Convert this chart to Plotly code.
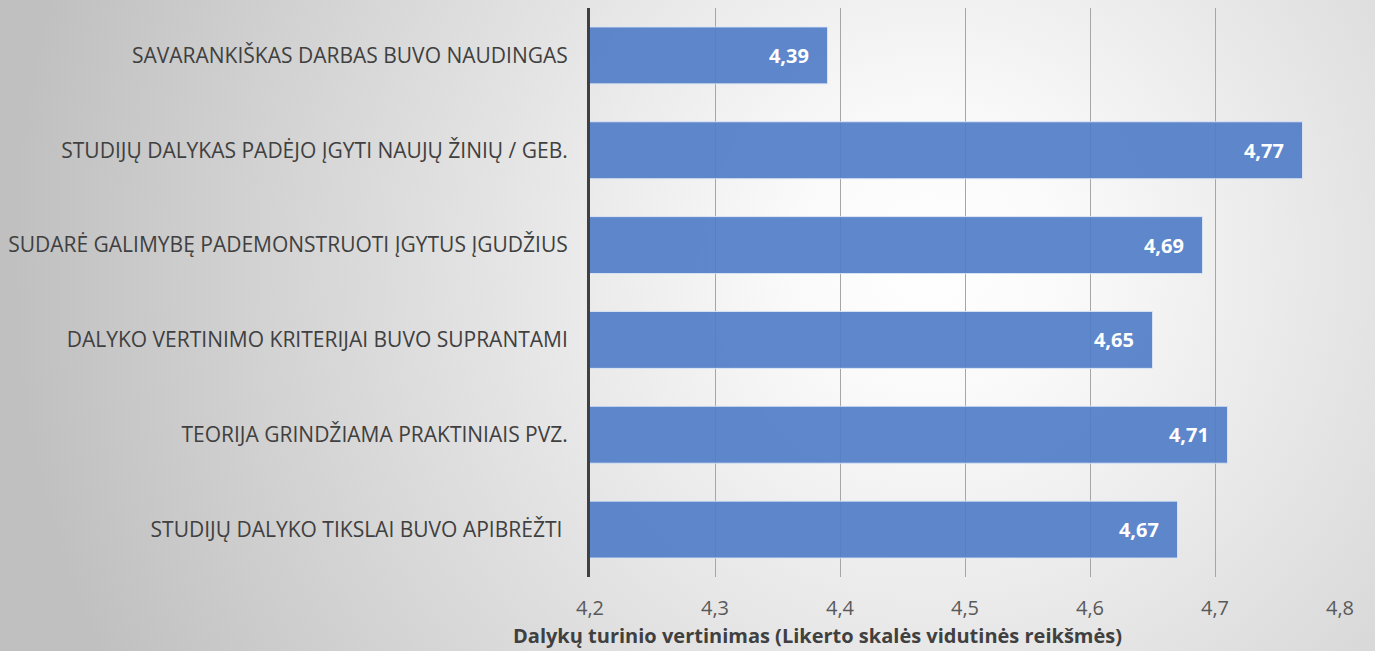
import base64
import plotly.graph_objects as go

categories = [
    "SAVARANKIŠKAS DARBAS BUVO NAUDINGAS",
    "STUDIJŲ DALYKAS PADĖJO ĮGYTI NAUJŲ ŽINIŲ / GEB.",
    "SUDARĖ GALIMYBĘ PADEMONSTRUOTI ĮGYTUS ĮGUDŽIUS",
    "DALYKO VERTINIMO KRITERIJAI BUVO SUPRANTAMI",
    "TEORIJA GRINDŽIAMA PRAKTINIAIS PVZ.",
    "STUDIJŲ DALYKO TIKSLAI BUVO APIBRĖŽTI ",
]
values = [4.39, 4.77, 4.69, 4.65, 4.71, 4.67]
x_ticks = [4.2, 4.3, 4.4, 4.5, 4.6, 4.7, 4.8]
x_title = "Dalykų turinio vertinimas (Likerto skalės vidutinės reikšmės)"

W, H = 1375, 651
L, R, T, B = 590, 35, 8, 74
pw, ph = W - L - R, H - T - B
FONT = "Open Sans"

cx, cy = 930, 260
svg = f'''<svg xmlns="http://www.w3.org/2000/svg" width="{W}" height="{H}" viewBox="0 0 {W} {H}" preserveAspectRatio="none">
<defs><radialGradient id="g" gradientUnits="userSpaceOnUse" cx="{cx}" cy="{cy}" r="920">
<stop offset="0" stop-color="#ffffff"/><stop offset="0.15" stop-color="#fafafa"/><stop offset="1" stop-color="#c0c0c0"/></radialGradient></defs>
<rect width="{W}" height="{H}" fill="url(#g)"/></svg>'''
src = "data:image/svg+xml;base64," + base64.b64encode(svg.encode()).decode()

fig = go.Figure(go.Bar(
    x=values, y=categories, orientation="h",
    marker=dict(color="rgba(80,125,200,0.92)", line=dict(color="rgba(220,230,245,0.9)", width=1)),
    width=0.6,
    texttemplate="%{x:.2f}\u00a0\u00a0\u00a0", textposition="inside", insidetextanchor="end",
    textfont=dict(family=FONT, size=20, color="white", weight="bold"),
    cliponaxis=False,
))

fig.update_layout(
    width=W, height=H, margin=dict(l=L, r=R, t=T, b=B),
    paper_bgcolor="rgba(0,0,0,0)", plot_bgcolor="rgba(0,0,0,0)",
    separators=", ",
    showlegend=False,
    font=dict(family=FONT, size=19, color="#404040"),
    images=[dict(source=src, xref="paper", yref="paper",
                 x=-L / pw, y=1 + T / ph, sizex=W / pw, sizey=H / ph,
                 sizing="stretch", layer="below", xanchor="left", yanchor="top")],
    xaxis=dict(range=[4.2, 4.8], tickvals=x_ticks, tickformat=".1f",
               showgrid=True, gridcolor="#a6a6a6", gridwidth=1, zeroline=False,
               showline=False, ticks="", ticklabelstandoff=17,
               tickfont=dict(family=FONT, size=20, color="#595959")),
    yaxis=dict(autorange="reversed", showline=True, linecolor="#404040", linewidth=3,
               showgrid=False, ticks="", ticklabelstandoff=15,
               tickfont=dict(family=FONT, size=21, color="#404040")),
    annotations=[dict(text=x_title, xref="paper", yref="paper",
                      x=(817 - L) / pw, y=-(635 - (H - B)) / ph,
                      xanchor="center", yanchor="middle", showarrow=False,
                      font=dict(family=FONT, size=20, color="#404040", weight="bold"))],
)
fig.write_html("out.html", config={"displayModeBar": False},
               post_script="document.body.style.margin='0';")
